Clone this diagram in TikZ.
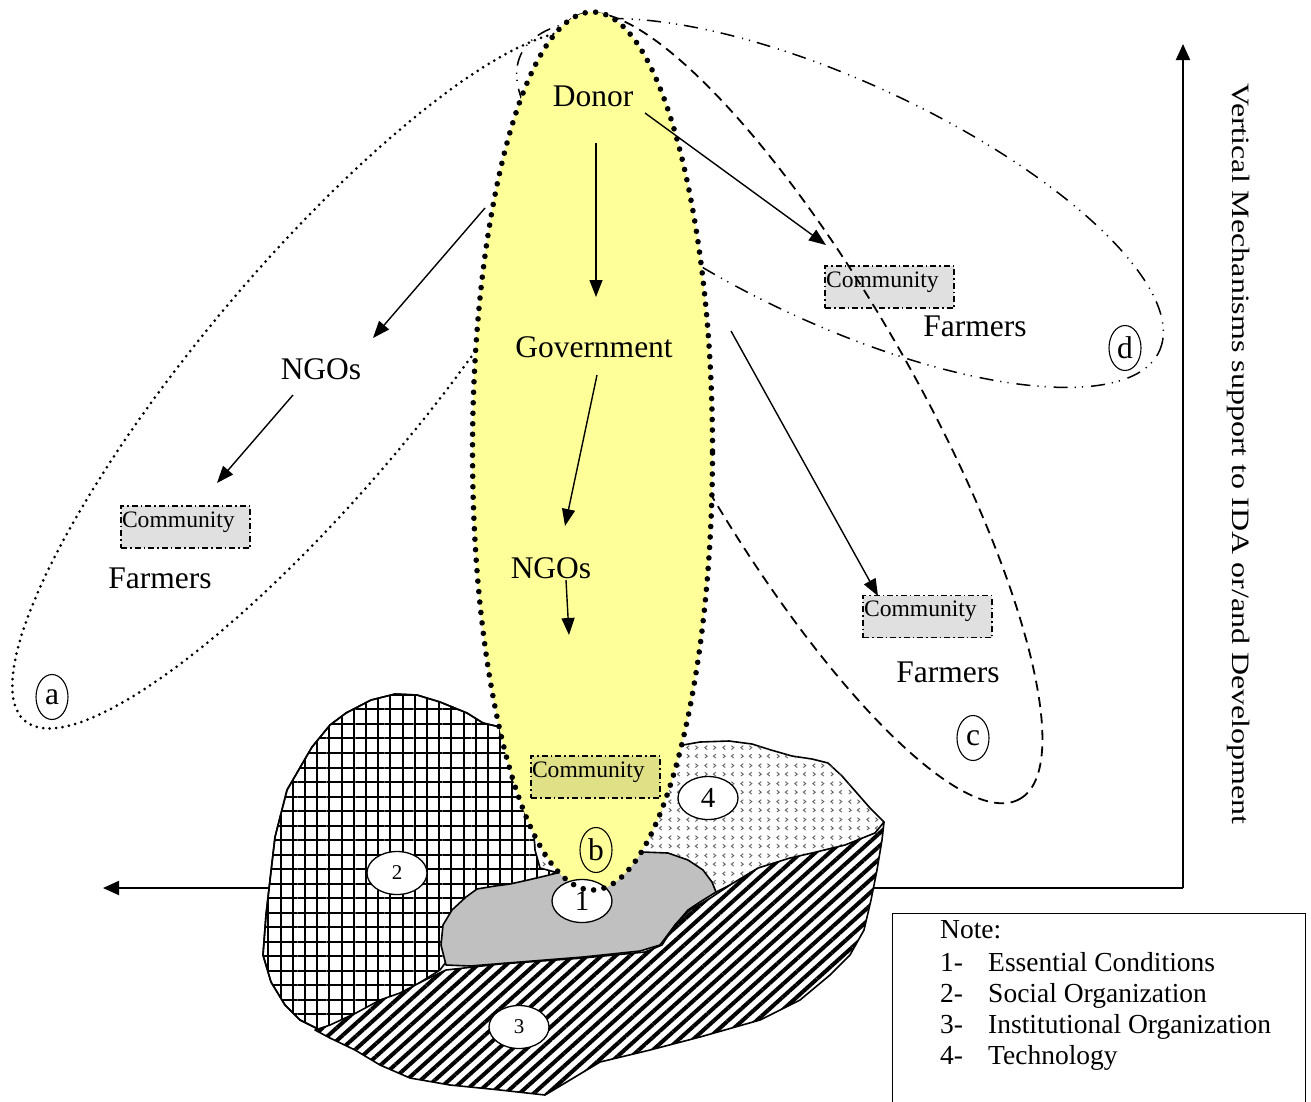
\documentclass[tikz,border=0pt]{standalone}
\usepackage{fontspec}
\setmainfont{Liberation Serif}
\usetikzlibrary{arrows.meta,shapes.geometric,patterns,patterns.meta}

\definecolor{bulbyellow}{RGB}{255,255,153}
\definecolor{coregray}{RGB}{192,192,192}

% small chevrons used for the technology area
\pgfdeclarepatternformonly{chevrons}{\pgfqpoint{0pt}{0pt}}{\pgfqpoint{18pt}{18pt}}{\pgfqpoint{18pt}{18pt}}{%
  \pgfsetlinewidth{1pt}%
  \pgfpathmoveto{\pgfqpoint{5.5pt}{15pt}}\pgfpathlineto{\pgfqpoint{3pt}{13pt}}\pgfpathlineto{\pgfqpoint{5.5pt}{11pt}}%
  \pgfpathmoveto{\pgfqpoint{12pt}{15pt}}\pgfpathlineto{\pgfqpoint{14.5pt}{13pt}}\pgfpathlineto{\pgfqpoint{12pt}{11pt}}%
  \pgfpathmoveto{\pgfqpoint{3pt}{6pt}}\pgfpathlineto{\pgfqpoint{5.5pt}{4pt}}\pgfpathlineto{\pgfqpoint{3pt}{2pt}}%
  \pgfpathmoveto{\pgfqpoint{14.5pt}{6pt}}\pgfpathlineto{\pgfqpoint{12pt}{4pt}}\pgfpathlineto{\pgfqpoint{14.5pt}{2pt}}%
  \pgfusepath{stroke}}

\newcommand{\lblfont}{\fontsize{31.5}{36}\selectfont}
\newcommand{\commfont}{\fontsize{23.6}{26}\selectfont}
\newcommand{\notefont}{\fontsize{27.5}{31}\selectfont}
\newcommand{\bignum}{\fontsize{29}{32}\selectfont}
\newcommand{\smallnum}{\fontsize{21}{24}\selectfont}
\newcommand{\axisfont}{\fontsize{25}{28}\selectfont}

\begin{document}
\begin{tikzpicture}[x=1pt,y=-1pt,
  arr/.style={line width=1.4pt,-{Triangle[length=17pt,width=13pt]}},
  axisline/.style={line width=2pt,-{Triangle[length=16pt,width=14pt]}},
  lbl/.style={font=\lblfont,inner sep=0pt},
  commbox/.style={draw,line width=1.3pt,dash pattern=on 6pt off 3pt on 1.5pt off 3pt,
    fill=black,fill opacity=0.12,text opacity=1,minimum width=129pt,minimum height=42pt,
    inner xsep=1pt,inner ysep=0pt,text width=127pt,align=left,font=\commfont,
    text height=21pt,text depth=21pt},
  tag/.style={draw,ellipse,line width=1.1pt,minimum width=32pt,minimum height=45pt,inner sep=0pt,font=\lblfont},
  numtag/.style={draw,ellipse,fill=white,line width=1.3pt,minimum width=60pt,minimum height=43pt,inner sep=0pt},
  ovala/.style={line width=3pt,dash pattern=on 0pt off 6.5pt,line cap=round},
  ovalc/.style={line width=1.8pt,dash pattern=on 10pt off 6.5pt},
  ovald/.style={line width=1.5pt,dash pattern=on 14pt off 7pt on 1.2pt off 6pt on 1.2pt off 8pt},
  area/.style={line width=1.6pt,line join=round},
  notetext/.style={font=\notefont,inner sep=0pt,anchor=base west}]

\useasboundingbox (0,0) rectangle (1311,1101);

% outer groupings a, c, d
\draw[ovala] [rotate around={50:(311,380)}] (311,380) ellipse [x radius=445pt, y radius=112pt];
\draw[ovalc] [rotate around={-60.3:(797,408)}] (797,408) ellipse [x radius=450pt, y radius=118pt];
\draw[ovald] [rotate around={-24.9:(840,203)}] (840,203) ellipse [x radius=352pt, y radius=121pt];

% axes
\coordinate (corner) at (1183,888);
\coordinate (leftend) at (103,888);
\coordinate (topend) at (1183,44);
\draw[axisline] (corner) -- (leftend);
\draw[axisline] (corner) -- (topend);

% 4 - technology
\draw[area,fill=white,postaction={pattern=chevrons,pattern color=black!60}]
  (683,745) -- (700,742) -- (729,741) -- (752,744) -- (771,750) -- (792,756) -- (812,759)
  -- (828,763) -- (842,776) -- (856,792) -- (870,808) -- (884,822) -- (878,832) -- (840,848)
  -- (760,870) -- (700,900) -- (600,905) -- (545,885) -- (528,850) -- (528,800) -- (560,770)
  -- (620,750) -- cycle;

% 2 - social organization
\draw[area,fill=white,
  postaction={pattern={Lines[angle=0,distance=14.5pt,line width=2pt]}},
  postaction={pattern={Lines[angle=90,distance=12.2pt,line width=2pt]}}]
  (346,713) -- (371,700) -- (395,694) -- (417,695) -- (440,702) -- (467,713) -- (483,723)
  -- (500,727) -- (515,745) -- (528,790) -- (533,820) -- (535,850) -- (540,868) -- (555,872)
  -- (520,900) -- (470,930) -- (440,970) -- (400,995) -- (355,1015) -- (320,1030) -- (300,1020)
  -- (285,1005) -- (271,982) -- (263,955) -- (266,915) -- (270,880) -- (275,837) -- (287,790)
  -- (312,747) -- (330,725) -- cycle;
\draw[area] (346,713) -- (371,700) -- (395,694) -- (417,695) -- (440,702) -- (467,713) -- (483,723)
  -- (500,727);
\draw[area] (320,1030) -- (300,1020) -- (285,1005) -- (271,982) -- (263,955) -- (266,915)
  -- (270,880) -- (275,837) -- (287,790) -- (312,747) -- (330,725) -- (346,713);

% 1 - essential conditions
\draw[area,fill=coregray]
  (446,965) -- (441,945) -- (443,925) -- (452,910) -- (466,897) -- (477,889) -- (495,886)
  -- (510,884) -- (528,880) -- (545,876) -- (565,871) -- (600,862) -- (642,852) -- (668,853)
  -- (688,860) -- (703,870) -- (712,882) -- (716,892) -- (700,902) -- (688,910) -- (675,925)
  -- (660,945) -- (640,951) -- (583,957) -- (520,962) -- (470,966) -- cycle;

% 3 - institutional organization
\draw[area,fill=white,postaction={pattern={Lines[angle=42,distance=9.5pt,line width=4pt]}}]
  (884,822) -- (882,840) -- (877,870) -- (871,900) -- (864,930) -- (850,955) -- (830,975)
  -- (800,1000) -- (760,1020) -- (700,1037) -- (650,1050) -- (600,1062) -- (570,1080)
  -- (545,1095) -- (500,1090) -- (450,1085) -- (410,1078) -- (380,1065) -- (355,1050)
  -- (330,1038) -- (315,1030) -- (330,1025) -- (356,1013) -- (380,1000) -- (400,993)
  -- (425,980) -- (446,970) -- (500,964) -- (583,958) -- (645,952) -- (662,945) -- (675,925)
  -- (690,910) -- (712,897) -- (730,885) -- (758,868) -- (790,858) -- (812,853) -- (845,845)
  -- (875,833) -- cycle;

% central path b
\fill[bulbyellow] (592.5,451) ellipse [x radius=120pt, y radius=439pt];
\node[numtag,font=\bignum] (n1) at (582,901) {1};
\draw[line width=5.6pt,dash pattern=on 0pt off 10.5pt,line cap=round]
  (592.5,451) ellipse [x radius=120pt, y radius=439pt];

\node[numtag,font=\smallnum] (n2) at (397,873) {2};
\node[numtag,font=\smallnum] (n3) at (519,1027) {3};
\node[numtag,font=\bignum] (n4) at (708,798) {4};

% actors
\node[lbl] (donor) at (593,96) {Donor};
\node[lbl] (gov) at (594,347) {Government};
\node[lbl] (ngob) at (551,568) {NGOs};
\node[lbl] (ngoa) at (321,369) {NGOs};
\node[lbl] (farma) at (160,578) {Farmers};
\node[lbl] (farmd) at (975,326) {Farmers};
\node[lbl] (farmc) at (948,672) {Farmers};

\node[commbox] (comma) at (185.5,527) {Community};
\node[commbox] (commd) at (889.5,287) {Community};
\node[commbox] (commc) at (927.5,616.5) {Community};
\node[commbox] (commb) at (595.5,777) {Community};

\node[tag] (ta) at (52,697) {a};
\node[tag] (tb) at (596,850) {b};
\node[tag] (tc) at (973,738) {c};
\node[tag] (td) at (1125,348) {d};

% flows
\coordinate (p1) at (596,143); \coordinate (q1) at (596,297);
\coordinate (p2) at (645,113); \coordinate (q2) at (826,245);
\coordinate (p3) at (485,208); \coordinate (q3) at (373,338);
\coordinate (p4) at (293,395); \coordinate (q4) at (217,483);
\coordinate (p5) at (597,375); \coordinate (q5) at (565,526);
\coordinate (p6) at (566,580); \coordinate (q6) at (569,635);
\coordinate (p7) at (731,331); \coordinate (q7) at (878,596);
\draw[arr] (p1) -- (q1);
\draw[arr] (p2) -- (q2);
\draw[arr] (p3) -- (q3);
\draw[arr] (p4) -- (q4);
\draw[arr] (p5) -- (q5);
\draw[arr] (p6) -- (q6);
\draw[arr] (p7) -- (q7);

% axis caption
\node[font=\axisfont,inner sep=0pt,rotate=-90] (axis) at (1238,454)
  {\scalebox{1.28}[1]{Vertical Mechanisms support to IDA or/and Development}};

% legend
\node[draw,line width=1.5pt,anchor=north west,minimum width=413pt,minimum height=210pt,inner sep=0pt] (note) at (891.5,912.5) {};
\node[notetext] (nt) at (940,938) {Note:};
\node[notetext] (k1) at (940,971) {1-};
\node[notetext] (v1) at (988,971) {Essential Conditions};
\node[notetext] (k2) at (940,1002) {2-};
\node[notetext] (v2) at (988,1002) {Social Organization};
\node[notetext] (k3) at (940,1033) {3-};
\node[notetext] (v3) at (988,1033) {Institutional Organization};
\node[notetext] (k4) at (940,1064) {4-};
\node[notetext] (v4) at (988,1064) {Technology};
\end{tikzpicture}
\end{document}
